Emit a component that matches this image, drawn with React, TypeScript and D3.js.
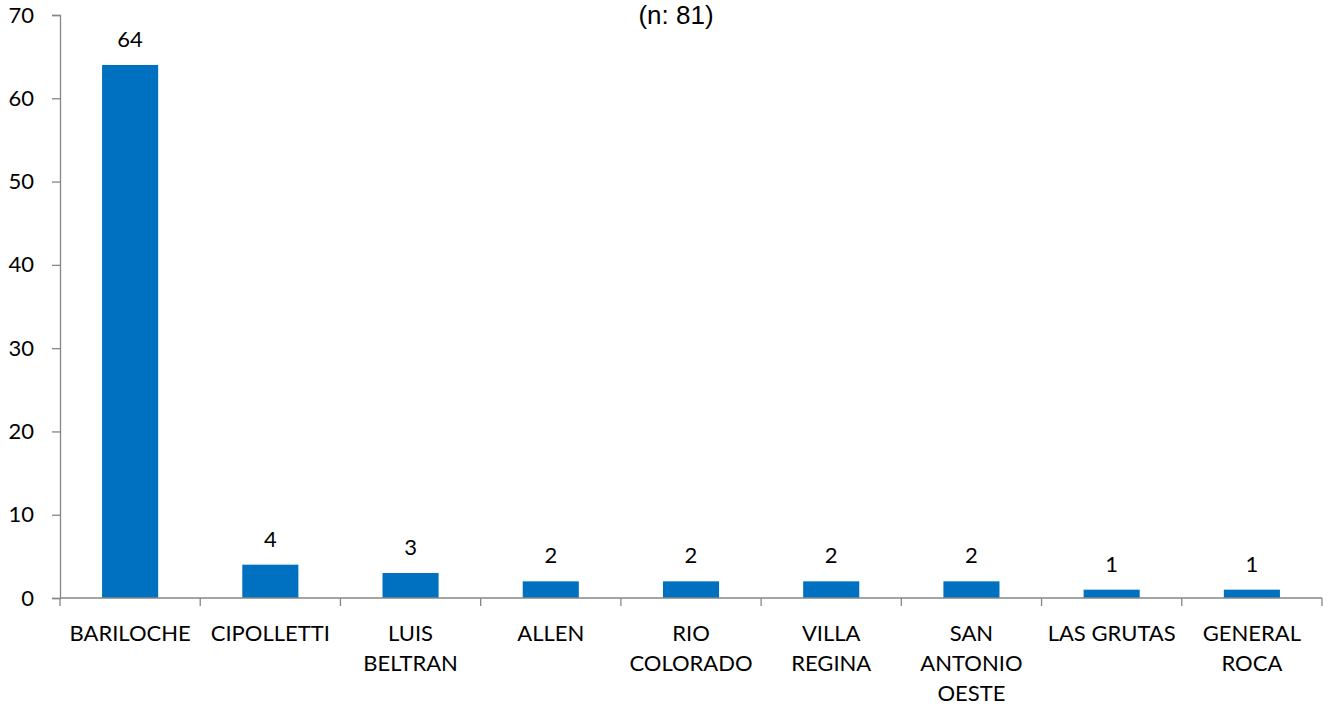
import React, { useEffect, useRef } from 'react';
import * as d3 from 'd3';

const categories = [
  'BARILOCHE',
  'CIPOLLETTI',
  'LUIS\nBELTRAN',
  'ALLEN',
  'RIO\nCOLORADO',
  'VILLA\nREGINA',
  'SAN\nANTONIO\nOESTE',
  'LAS GRUTAS',
  'GENERAL\nROCA',
];
const values = [64, 4, 3, 2, 2, 2, 2, 1, 1];
const yTicks = [0, 10, 20, 30, 40, 50, 60, 70];
const subtitle = '(n: 81)';

const App = () => {
  const svgRef = useRef<SVGSVGElement>(null);

  useEffect(() => {
    const width = 1331;
    const height = 711;
    const margin = { left: 60, right: 9, top: 15, bottom: 113 };
    const font = 'Lato, "Open Sans", sans-serif';
    const axisColor = '#868686';

    const svg = d3.select(svgRef.current).attr('width', width).attr('height', height);
    svg.selectAll('*').remove();

    const x = d3
      .scaleBand()
      .domain(categories)
      .range([margin.left, width - margin.right])
      .paddingInner(0.6)
      .paddingOuter(0.3);

    const y = d3
      .scaleLinear()
      .domain([0, 70])
      .range([height - margin.bottom, margin.top]);

    const g = svg.append('g');

    // subtitle
    g.append('text')
      .attr('x', 676)
      .attr('y', 24)
      .attr('text-anchor', 'middle')
      .attr('font-family', '"Liberation Sans", Arial, sans-serif')
      .attr('font-size', '26px')
      .attr('fill', '#000')
      .text(subtitle);

    // bars
    g.selectAll('rect.bar')
      .data(values)
      .enter()
      .append('rect')
      .attr('class', 'bar')
      .attr('x', (_, i) => x(categories[i]) as number)
      .attr('width', x.bandwidth())
      .attr('y', (d) => y(d))
      .attr('height', (d) => y(0) - y(d))
      .attr('fill', '#0070C0');

    // value labels
    g.selectAll('text.val')
      .data(values)
      .enter()
      .append('text')
      .attr('class', 'val')
      .attr('x', (_, i) => (x(categories[i]) as number) + x.bandwidth() / 2)
      .attr('y', (d) => y(d) - 18)
      .attr('text-anchor', 'middle')
      .attr('font-family', font)
      .attr('font-size', '22px')
      .attr('fill', '#000')
      .text((d) => d);

    // y axis
    const yAxis = d3.axisLeft(y).tickValues(yTicks).tickSize(8).tickPadding(18);
    const ya = g
      .append('g')
      .attr('transform', `translate(${margin.left},0)`)
      .call(yAxis);
    ya.select('.domain').attr('stroke', axisColor).attr('stroke-width', 1.3);
    ya.selectAll('line').attr('stroke', axisColor).attr('stroke-width', 1.3);
    ya.selectAll('text')
      .attr('font-family', font)
      .attr('font-size', '22px')
      .attr('fill', '#000');

    // x axis
    const x0 = margin.left;
    const x1 = width - margin.right;
    const step = x.step();
    const base = y(0);
    g.append('line')
      .attr('x1', x0)
      .attr('x2', x1)
      .attr('y1', base)
      .attr('y2', base)
      .attr('stroke', axisColor)
      .attr('stroke-width', 1.3);
    const boundaries = d3.range(categories.length + 1).map((i) => x0 + i * step);
    g.selectAll('line.xtick')
      .data(boundaries)
      .enter()
      .append('line')
      .attr('class', 'xtick')
      .attr('x1', (d) => d)
      .attr('x2', (d) => d)
      .attr('y1', base)
      .attr('y2', base + 8)
      .attr('stroke', axisColor)
      .attr('stroke-width', 1.3);

    // category labels
    const labels = g
      .selectAll('text.cat')
      .data(categories)
      .enter()
      .append('text')
      .attr('class', 'cat')
      .attr('text-anchor', 'middle')
      .attr('font-family', font)
      .attr('font-size', '22px')
      .attr('fill', '#000');
    labels.each(function (d) {
      const cx = (x(d) as number) + x.bandwidth() / 2;
      d.split('\n').forEach((line, j) => {
        d3.select(this)
          .append('tspan')
          .attr('x', cx)
          .attr('y', base + 43 + j * 30)
          .text(line);
      });
    });
  }, []);

  return (
    <div style={{ position: 'absolute', left: 0, top: 0 }}>
      <svg ref={svgRef}></svg>
    </div>
  );
};

export default App;
